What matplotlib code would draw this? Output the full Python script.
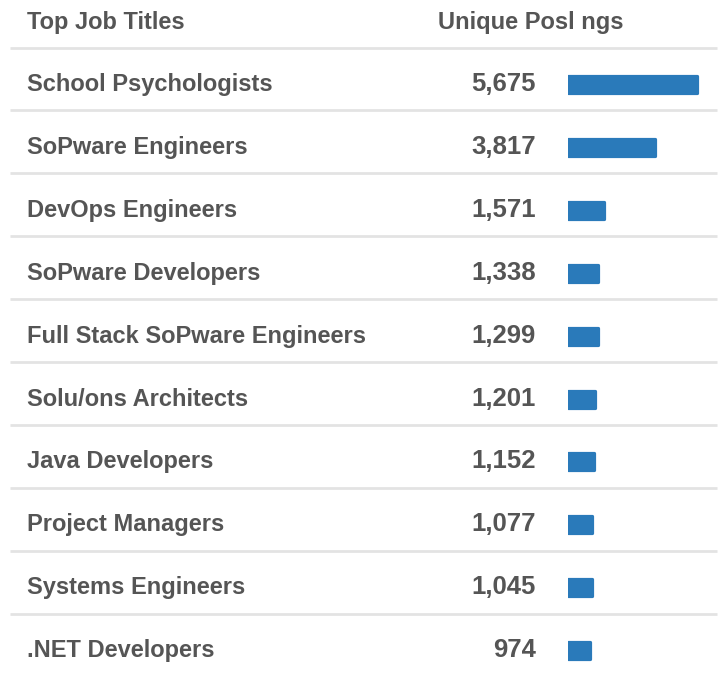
import matplotlib
matplotlib.use("Agg")
import matplotlib.pyplot as plt

titles = ["School Psychologists", "SoPware Engineers", "DevOps Engineers",
          "SoPware Developers", "Full Stack SoPware Engineers", "Solu/ons Architects",
          "Java Developers", "Project Managers", "Systems Engineers", ".NET Developers"]
postings = [5675, 3817, 1571, 1338, 1299, 1201, 1152, 1077, 1045, 974]
header_left = "Top Job Titles"
header_right = "Unique Posl ngs"

TEXT = "#555555"
BAR = "#2a7aba"
RULE = "#e3e3e3"
FONT = ["Liberation Sans", "DejaVu Sans"]

W, H = 720, 677
fig = plt.figure(figsize=(W / 100, H / 100), dpi=100)

# full-figure axes in pixel coordinates for text and rules
ax = fig.add_axes([0, 0, 1, 1])
ax.set_xlim(0, W); ax.set_ylim(H, 0); ax.axis("off")

row0, step = 84.5, 62.9   # centre of first row, row pitch (px)

ax.text(27, 28.5, header_left, ha="left", va="baseline", fontsize=17,
        color=TEXT, family=FONT, fontweight="bold")
ax.text(438, 28.5, header_right, ha="left", va="baseline", fontsize=17,
        color=TEXT, family=FONT, fontweight="bold")

# separators: under the header and between rows (none after the last one)
for i in range(len(titles)):
    y = row0 - 37 + i * step
    ax.plot([10, 717], [y, y], color=RULE, lw=2, solid_capstyle="butt")

for i, (t, v) in enumerate(zip(titles, postings)):
    yb = row0 + i * step + 6.5
    ax.text(27, yb, t, ha="left", va="baseline", fontsize=17, color=TEXT,
            family=FONT, fontweight="bold")
    ax.text(536, yb, f"{v:,}", ha="right", va="baseline", fontsize=18.5,
            color=TEXT, family=FONT, fontweight="bold")

# bar column: rows in index units, aligned with the pixel rows above
bx0, bw = 568, 150
bax = fig.add_axes([bx0 / W, 0, bw / W, 1])
bax.set_ylim((H - row0) / step, -row0 / step)
bax.set_xlim(0, max(postings) * bw / 129)
bax.axis("off")
bax.barh(range(len(postings)), postings, height=17 / step, color=BAR,
         edgecolor=BAR, linewidth=2.3, joinstyle="round")

fig.savefig("out.png", dpi=100, facecolor="white")
